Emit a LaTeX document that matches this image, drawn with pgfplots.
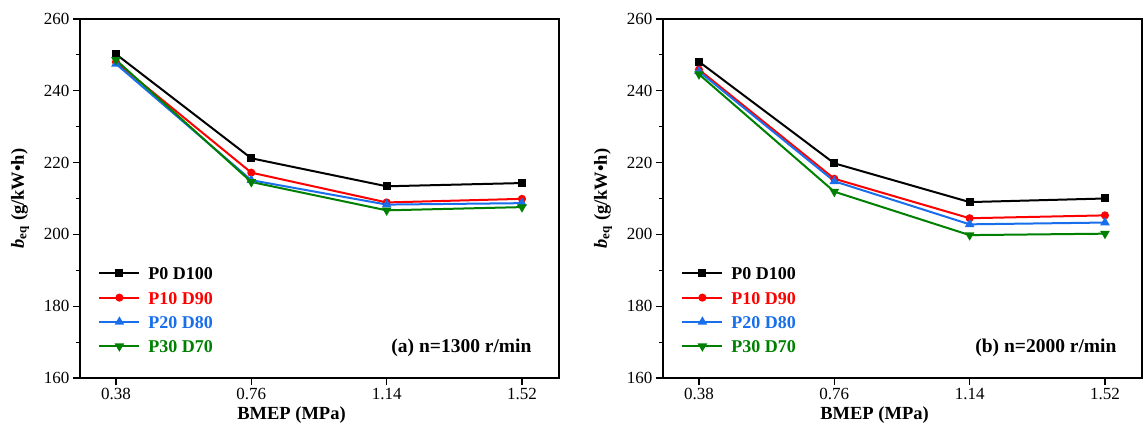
\documentclass[border=0pt]{standalone}
\usepackage{pgfplots}
\pgfplotsset{compat=1.18}
\usepackage{fontspec}
\setmainfont{Liberation Serif}
\definecolor{cblue}{RGB}{25,110,235}
\definecolor{cgreen}{RGB}{0,128,0}
\definecolor{cred}{RGB}{255,0,0}
\pgfplotstableread{
x a0 a10 a20 a30 b0 b10 b20 b30
0.38 250.2 248.0 247.5 248.6 248.1 245.9 245.4 244.6
0.76 221.2 217.2 215.1 214.6 219.8 215.5 214.8 211.9
1.14 213.4 208.9 208.3 206.7 209.0 204.5 202.8 199.8
1.52 214.3 209.9 208.7 207.6 210.0 205.3 203.3 200.2
}\data
\pgfplotsset{
  myaxis/.style={
    scale only axis, width=479pt, height=359pt, anchor=south west,
    xmin=0.279, xmax=1.624, ymin=160, ymax=260,
    xtick={0.38,0.76,1.14,1.52},
    xticklabels={0.38,0.76,1.14,1.52},
    ytick={160,180,200,220,240,260},
    minor ytick={170,190,210,230,250},
    tick align=outside, tick pos=left,
    major tick length=7pt, minor tick length=4pt,
    every tick/.style={black, line width=1.1pt},
    axis line style={line width=1.5pt},
    /pgf/number format/assume math mode=true,
    ticklabel style={font=\fontsize{17}{20}\selectfont},
    label style={font=\bfseries\fontsize{18.5}{22}\selectfont},
    xlabel={BMEP (MPa)},
    xlabel style={at={(axis description cs:0.5,0)}, anchor=center, yshift=-37pt, xshift=-28pt},
    ylabel={\textit{b}\textsubscript{eq} (g/kW\textbullet h)},
    ylabel style={at={(axis description cs:-0.125,0.5)}, anchor=center},
    legend cell align=left,
    legend image code/.code={\draw[line width=2pt, mark repeat=2,mark phase=2] plot coordinates {(0pt,0pt) (20pt,0pt) (40pt,0pt)};},
    legend style={draw=none, fill=none, at={(axis description cs:0.038,0.313)}, anchor=north west,
      inner sep=0pt, font=\bfseries\fontsize{18}{21}\selectfont,
      nodes={inner sep=1pt, text height=13pt, text depth=0pt},
      row sep=9.3pt, column sep=7pt},
    every axis plot/.append style={line width=2pt},
  }
}
\begin{document}
\begin{tikzpicture}[x=1pt,y=1pt]
\path[use as bounding box] (0,0) rectangle (1146,430);
\begin{axis}[myaxis, at={(80pt,52pt)}]
\addplot[black, mark=square*, mark size=3pt] table[x=x,y=a0]{\data};
\addplot[cred, mark=*, mark size=3pt] table[x=x,y=a10]{\data};
\addplot[cblue, mark=triangle*, mark size=3.6pt] table[x=x,y=a20]{\data};
\addplot[cgreen, mark=triangle*, mark options={rotate=180}, mark size=3.6pt] table[x=x,y=a30]{\data};
\legend{\textcolor{black}{P0 D100},\textcolor{cred}{P10 D90},\textcolor{cblue}{P20 D80},\textcolor{cgreen}{P30 D70}}
\node[anchor=base east, font=\bfseries\fontsize{19.5}{23}\selectfont] at (rel axis cs:1,0) [xshift=-24pt, yshift=25pt] {(a) n=1300 r/min};
\end{axis}
\begin{axis}[myaxis, at={(663pt,52pt)}]
\addplot[black, mark=square*, mark size=3pt] table[x=x,y=b0]{\data};
\addplot[cred, mark=*, mark size=3pt] table[x=x,y=b10]{\data};
\addplot[cblue, mark=triangle*, mark size=3.6pt] table[x=x,y=b20]{\data};
\addplot[cgreen, mark=triangle*, mark options={rotate=180}, mark size=3.6pt] table[x=x,y=b30]{\data};
\legend{\textcolor{black}{P0 D100},\textcolor{cred}{P10 D90},\textcolor{cblue}{P20 D80},\textcolor{cgreen}{P30 D70}}
\node[anchor=base east, font=\bfseries\fontsize{19.5}{23}\selectfont] at (rel axis cs:1,0) [xshift=-22pt, yshift=25pt] {(b) n=2000 r/min};
\end{axis}
\end{tikzpicture}
\end{document}
